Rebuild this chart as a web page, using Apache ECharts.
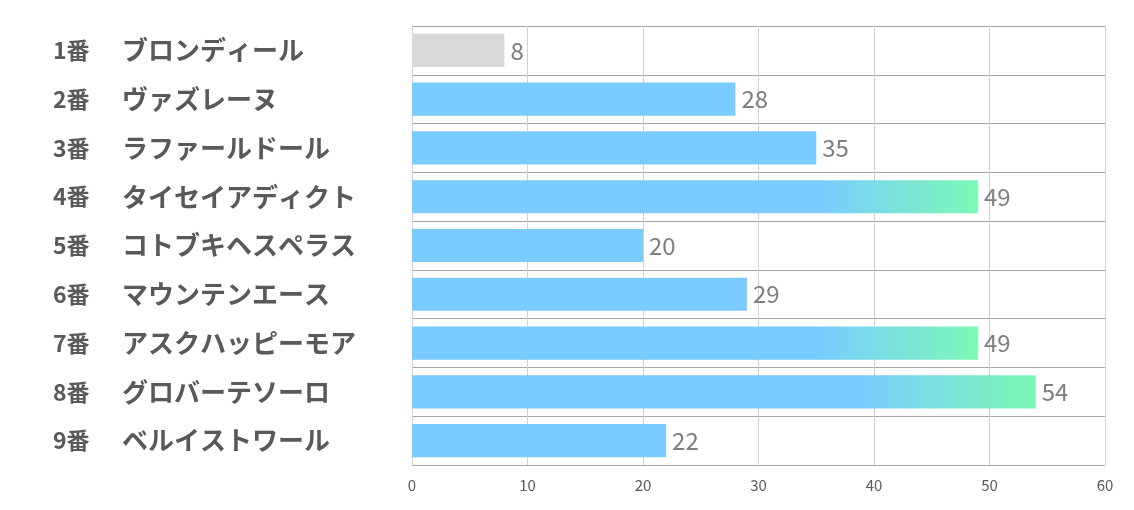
<!DOCTYPE html>
<html>
<head>
<meta charset="utf-8">
<script src="https://cdn.jsdelivr.net/npm/echarts@6/dist/echarts.min.js"></script>
<style>
html,body{margin:0;padding:0;background:#fff;}
#c{width:1134px;height:510px;}
</style>
</head>
<body>
<div id="c"></div>
<script>
const numbers = ['1番','2番','3番','4番','5番','6番','7番','8番','9番'];
const horses = ['ブロンディール','ヴァズレーヌ','ラファールドール','タイセイアディクト','コトブキヘスペラス','マウンテンエース','アスクハッピーモア','グロバーテソーロ','ベルイストワール'];
const values = [8, 28, 35, 49, 20, 29, 49, 54, 22];
const xTicks = [0, 10, 20, 30, 40, 50, 60];

const FONT = '"Noto Sans CJK JP", "Noto Sans", sans-serif';
const categories = numbers.map((n, i) => n + '|' + horses[i]);

const sorted = values.slice().sort((a, b) => b - a);
const topThreshold = sorted[2];

function barColor(v, i) {
  if (i === 0) return '#D9D9D9';
  if (v >= topThreshold) {
    return new echarts.graphic.LinearGradient(0, 0, 1, 0, [
      {offset: 0, color: '#7ACBFF'},
      {offset: 0.72, color: '#7ACBFF'},
      {offset: 1, color: '#7CF9B6'}
    ]);
  }
  return '#7ACBFF';
}

const chart = echarts.init(document.getElementById('c'));
chart.setOption({
  animation: false,
  backgroundColor: '#fff',
  grid: {left: 412, right: 29, top: 26, bottom: 45, containLabel: false},
  xAxis: {
    type: 'value',
    min: xTicks[0], max: xTicks[xTicks.length - 1], interval: 10,
    axisLine: {show: false},
    axisTick: {show: false},
    splitLine: {show: true, lineStyle: {color: '#D0D0D0', width: 1}},
    axisLabel: {color: '#595959', fontSize: 15, fontFamily: FONT, margin: 13}
  },
  yAxis: {
    type: 'category',
    inverse: true,
    data: categories,
    axisLine: {show: true, lineStyle: {color: '#D0D0D0'}},
    axisTick: {show: false},
    splitLine: {show: true, lineStyle: {color: '#A6A6A6', width: 1}},
    axisLabel: {
      align: 'left',
      margin: 359,
      formatter: function (v) {
        const p = v.split('|');
        return '{a|' + p[0] + '}{b|' + p[1] + '}';
      },
      rich: {
        a: {width: 69, fontSize: 23, fontWeight: 'bold', color: '#595959', fontFamily: FONT},
        b: {fontSize: 26, fontWeight: 'bold', color: '#595959', fontFamily: FONT}
      }
    }
  },
  series: [{
    type: 'bar',
    data: values.map((v, i) => ({value: v, itemStyle: {color: barColor(v, i)}})),
    barCategoryGap: '32%',
    label: {
      show: true, position: 'right', distance: 6,
      color: '#7F7F7F', fontSize: 24, fontFamily: FONT
    }
  }]
});
</script>
</body>
</html>
